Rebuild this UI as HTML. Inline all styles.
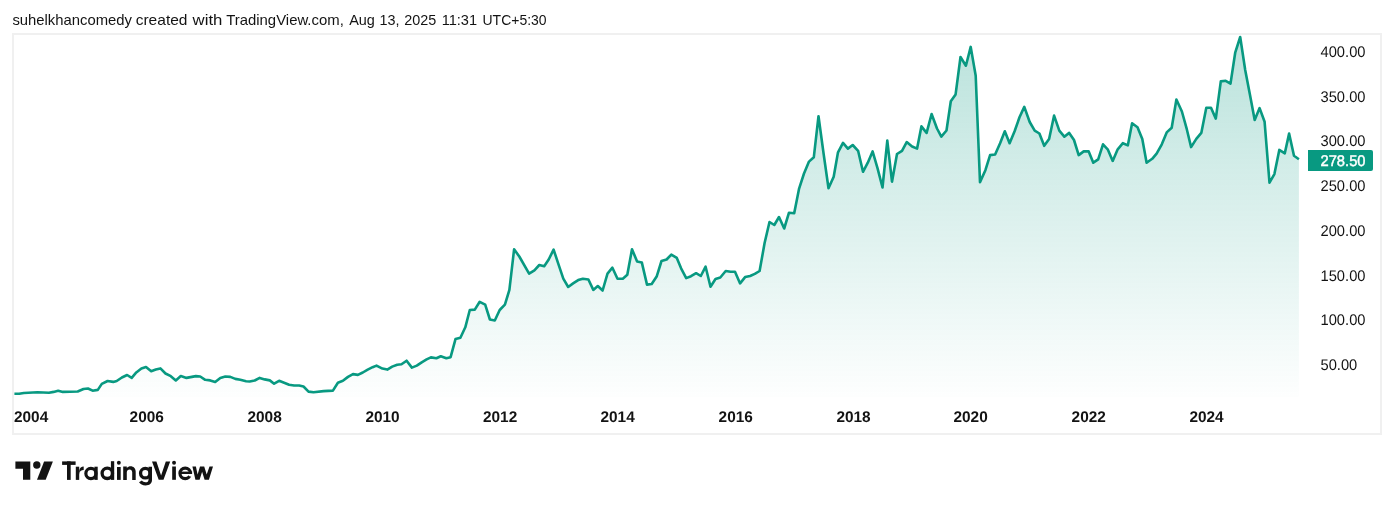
<!DOCTYPE html>
<html><head><meta charset="utf-8">
<style>
html,body{margin:0;padding:0;background:#fff;}
body{width:1394px;height:509px;overflow:hidden;position:relative;font-family:"Liberation Sans",sans-serif;}
svg{position:absolute;left:0;top:0;will-change:transform;}
</style></head><body>
<svg width="1394" height="509" viewBox="0 0 1394 509">
<defs>
<linearGradient id="g" x1="0" y1="35" x2="0" y2="405" gradientUnits="userSpaceOnUse">
<stop offset="0" stop-color="#089981" stop-opacity="0.28"/>
<stop offset="1" stop-color="#089981" stop-opacity="0.0"/>
</linearGradient>
</defs>
<g font-family="Liberation Sans" font-size="15" fill="#131313"><text x="12.4" y="24.5" textLength="119.6" lengthAdjust="spacingAndGlyphs">suhelkhancomedy</text><text x="135.7" y="24.5" textLength="51.8" lengthAdjust="spacingAndGlyphs">created</text><text x="192.6" y="24.5" textLength="29.8" lengthAdjust="spacingAndGlyphs">with</text><text x="226.2" y="24.5" textLength="117.6" lengthAdjust="spacingAndGlyphs">TradingView.com,</text><text x="349.2" y="24.5" textLength="25.7" lengthAdjust="spacingAndGlyphs">Aug</text><text x="379.4" y="24.5" textLength="20.0" lengthAdjust="spacingAndGlyphs">13,</text><text x="404.2" y="24.5" textLength="32.0" lengthAdjust="spacingAndGlyphs">2025</text><text x="441.7" y="24.5" textLength="35.4" lengthAdjust="spacingAndGlyphs">11:31</text><text x="482.5" y="24.5" textLength="64.1" lengthAdjust="spacingAndGlyphs">UTC+5:30</text></g>
<rect x="13" y="34" width="1368" height="400" fill="none" stroke="#f0f0f0" stroke-width="2"/>
<path d="M14.4,393.8 L19.2,393.8 L23.8,393.0 L37.5,392.2 L49.0,392.7 L53.6,391.9 L58.2,390.7 L62.8,391.9 L77.7,391.5 L83.5,389.0 L88.0,388.5 L92.6,390.7 L97.8,389.9 L101.8,383.9 L107.6,381.0 L113.3,381.9 L116.7,381.0 L121.9,377.5 L127.1,375.0 L131.7,377.8 L136.3,372.4 L141.4,368.4 L146.0,367.0 L151.2,371.2 L155.8,369.5 L160.4,368.4 L165.5,373.5 L170.8,376.2 L175.8,380.4 L180.8,376.1 L186.5,377.9 L195.9,376.1 L200.2,376.5 L205.2,379.8 L210.2,380.4 L215.2,382.0 L220.3,377.9 L225.3,376.5 L230.3,376.9 L235.3,378.9 L240.3,379.8 L246.1,381.2 L249.7,381.5 L254.7,380.5 L259.7,377.9 L264.7,379.4 L269.8,380.4 L274.1,383.7 L279.1,380.8 L284.1,382.7 L289.1,384.7 L294.1,385.5 L299.2,385.5 L303.5,386.5 L308.5,391.6 L313.5,392.3 L323.6,391.1 L332.9,390.6 L337.9,382.7 L342.9,380.8 L348.0,376.9 L353.0,374.1 L357.9,374.9 L362.8,372.5 L367.7,369.6 L372.6,367.2 L376.5,365.6 L382.4,368.6 L387.3,369.6 L392.2,366.6 L397.2,364.7 L401.5,364.3 L406.6,360.7 L411.9,367.6 L416.8,365.6 L421.7,362.3 L426.6,359.4 L430.9,357.4 L436.4,358.2 L440.8,356.2 L446.3,358.2 L450.6,357.2 L455.5,339.1 L460.4,337.7 L465.3,327.3 L469.8,310.0 L474.8,309.6 L479.7,301.8 L485.2,304.7 L489.9,319.5 L494.8,320.5 L499.7,310.0 L504.9,304.7 L509.4,289.9 L514.1,249.3 L519.3,256.5 L529.1,273.6 L534.4,270.3 L539.3,265.0 L544.2,266.3 L548.7,259.5 L553.6,249.6 L558.5,264.4 L563.3,278.7 L568.2,287.0 L573.1,283.4 L578.2,280.1 L582.9,278.7 L588.4,279.5 L593.3,289.9 L597.8,286.0 L602.6,290.5 L607.5,273.6 L612.4,267.7 L617.5,278.7 L622.8,278.7 L627.3,274.8 L632.0,249.3 L637.1,261.4 L641.8,262.4 L647.0,284.6 L651.7,284.0 L656.8,276.2 L661.5,261.0 L666.6,259.5 L671.3,254.6 L676.8,257.9 L681.1,268.3 L686.2,278.1 L691.0,276.2 L696.1,273.2 L700.8,276.0 L705.6,266.7 L710.5,286.8 L715.5,279.0 L720.3,277.5 L725.7,271.0 L730.6,271.7 L735.0,271.7 L740.1,283.4 L745.1,277.1 L750.1,276.0 L754.8,273.9 L759.6,271.0 L764.6,243.0 L769.5,222.0 L774.3,225.0 L779.0,217.0 L784.2,228.5 L789.0,212.7 L794.2,213.3 L799.1,188.6 L804.0,173.5 L809.0,161.6 L813.8,157.3 L818.5,116.2 L823.5,153.0 L828.5,188.2 L833.7,176.7 L838.0,152.3 L843.0,142.8 L847.9,148.6 L852.7,145.0 L858.1,150.8 L863.0,171.8 L867.8,162.7 L872.6,151.4 L877.5,168.1 L882.5,187.5 L887.3,140.6 L892.0,181.7 L897.0,154.0 L902.0,150.8 L906.7,142.1 L912.1,146.5 L917.1,148.6 L921.4,126.4 L926.6,132.9 L931.6,114.0 L937.0,128.5 L941.3,136.7 L946.5,130.5 L950.8,101.3 L955.6,94.4 L960.5,57.0 L965.9,65.7 L970.7,46.9 L975.7,75.8 L980.0,182.1 L985.4,170.2 L990.1,155.1 L995.1,154.5 L1000.1,143.2 L1004.8,131.3 L1009.6,143.2 L1014.6,131.3 L1019.5,117.3 L1024.3,106.9 L1029.7,122.0 L1034.7,130.7 L1039.4,133.5 L1044.2,145.8 L1049.1,138.9 L1054.1,115.6 L1059.3,130.7 L1064.3,136.7 L1069.2,132.9 L1074.0,140.0 L1078.7,155.1 L1083.7,151.4 L1088.7,151.4 L1093.3,162.7 L1098.2,159.4 L1103.0,144.3 L1107.7,149.3 L1112.7,160.9 L1117.7,149.3 L1122.9,143.2 L1127.8,145.4 L1132.1,123.3 L1137.5,127.2 L1142.3,138.9 L1146.6,162.7 L1152.2,158.8 L1156.6,153.6 L1161.8,144.3 L1166.7,132.4 L1171.7,127.7 L1176.4,99.5 L1181.9,111.5 L1186.8,129.2 L1191.1,147.1 L1196.3,138.9 L1201.3,132.9 L1206.3,107.8 L1211.0,107.8 L1215.8,118.6 L1220.8,81.4 L1225.7,80.8 L1230.5,83.6 L1235.2,52.7 L1240.2,37.0 L1245.2,70.0 L1250.0,95.1 L1254.7,119.9 L1259.6,108.1 L1264.6,121.8 L1269.5,182.7 L1274.4,174.1 L1279.3,149.9 L1284.8,153.3 L1289.1,133.6 L1294.0,155.8 L1298.9,159.2 L1298.9,397 L14.4,397 Z" fill="url(#g)"/>
<path d="M14.4,393.8 L19.2,393.8 L23.8,393.0 L37.5,392.2 L49.0,392.7 L53.6,391.9 L58.2,390.7 L62.8,391.9 L77.7,391.5 L83.5,389.0 L88.0,388.5 L92.6,390.7 L97.8,389.9 L101.8,383.9 L107.6,381.0 L113.3,381.9 L116.7,381.0 L121.9,377.5 L127.1,375.0 L131.7,377.8 L136.3,372.4 L141.4,368.4 L146.0,367.0 L151.2,371.2 L155.8,369.5 L160.4,368.4 L165.5,373.5 L170.8,376.2 L175.8,380.4 L180.8,376.1 L186.5,377.9 L195.9,376.1 L200.2,376.5 L205.2,379.8 L210.2,380.4 L215.2,382.0 L220.3,377.9 L225.3,376.5 L230.3,376.9 L235.3,378.9 L240.3,379.8 L246.1,381.2 L249.7,381.5 L254.7,380.5 L259.7,377.9 L264.7,379.4 L269.8,380.4 L274.1,383.7 L279.1,380.8 L284.1,382.7 L289.1,384.7 L294.1,385.5 L299.2,385.5 L303.5,386.5 L308.5,391.6 L313.5,392.3 L323.6,391.1 L332.9,390.6 L337.9,382.7 L342.9,380.8 L348.0,376.9 L353.0,374.1 L357.9,374.9 L362.8,372.5 L367.7,369.6 L372.6,367.2 L376.5,365.6 L382.4,368.6 L387.3,369.6 L392.2,366.6 L397.2,364.7 L401.5,364.3 L406.6,360.7 L411.9,367.6 L416.8,365.6 L421.7,362.3 L426.6,359.4 L430.9,357.4 L436.4,358.2 L440.8,356.2 L446.3,358.2 L450.6,357.2 L455.5,339.1 L460.4,337.7 L465.3,327.3 L469.8,310.0 L474.8,309.6 L479.7,301.8 L485.2,304.7 L489.9,319.5 L494.8,320.5 L499.7,310.0 L504.9,304.7 L509.4,289.9 L514.1,249.3 L519.3,256.5 L529.1,273.6 L534.4,270.3 L539.3,265.0 L544.2,266.3 L548.7,259.5 L553.6,249.6 L558.5,264.4 L563.3,278.7 L568.2,287.0 L573.1,283.4 L578.2,280.1 L582.9,278.7 L588.4,279.5 L593.3,289.9 L597.8,286.0 L602.6,290.5 L607.5,273.6 L612.4,267.7 L617.5,278.7 L622.8,278.7 L627.3,274.8 L632.0,249.3 L637.1,261.4 L641.8,262.4 L647.0,284.6 L651.7,284.0 L656.8,276.2 L661.5,261.0 L666.6,259.5 L671.3,254.6 L676.8,257.9 L681.1,268.3 L686.2,278.1 L691.0,276.2 L696.1,273.2 L700.8,276.0 L705.6,266.7 L710.5,286.8 L715.5,279.0 L720.3,277.5 L725.7,271.0 L730.6,271.7 L735.0,271.7 L740.1,283.4 L745.1,277.1 L750.1,276.0 L754.8,273.9 L759.6,271.0 L764.6,243.0 L769.5,222.0 L774.3,225.0 L779.0,217.0 L784.2,228.5 L789.0,212.7 L794.2,213.3 L799.1,188.6 L804.0,173.5 L809.0,161.6 L813.8,157.3 L818.5,116.2 L823.5,153.0 L828.5,188.2 L833.7,176.7 L838.0,152.3 L843.0,142.8 L847.9,148.6 L852.7,145.0 L858.1,150.8 L863.0,171.8 L867.8,162.7 L872.6,151.4 L877.5,168.1 L882.5,187.5 L887.3,140.6 L892.0,181.7 L897.0,154.0 L902.0,150.8 L906.7,142.1 L912.1,146.5 L917.1,148.6 L921.4,126.4 L926.6,132.9 L931.6,114.0 L937.0,128.5 L941.3,136.7 L946.5,130.5 L950.8,101.3 L955.6,94.4 L960.5,57.0 L965.9,65.7 L970.7,46.9 L975.7,75.8 L980.0,182.1 L985.4,170.2 L990.1,155.1 L995.1,154.5 L1000.1,143.2 L1004.8,131.3 L1009.6,143.2 L1014.6,131.3 L1019.5,117.3 L1024.3,106.9 L1029.7,122.0 L1034.7,130.7 L1039.4,133.5 L1044.2,145.8 L1049.1,138.9 L1054.1,115.6 L1059.3,130.7 L1064.3,136.7 L1069.2,132.9 L1074.0,140.0 L1078.7,155.1 L1083.7,151.4 L1088.7,151.4 L1093.3,162.7 L1098.2,159.4 L1103.0,144.3 L1107.7,149.3 L1112.7,160.9 L1117.7,149.3 L1122.9,143.2 L1127.8,145.4 L1132.1,123.3 L1137.5,127.2 L1142.3,138.9 L1146.6,162.7 L1152.2,158.8 L1156.6,153.6 L1161.8,144.3 L1166.7,132.4 L1171.7,127.7 L1176.4,99.5 L1181.9,111.5 L1186.8,129.2 L1191.1,147.1 L1196.3,138.9 L1201.3,132.9 L1206.3,107.8 L1211.0,107.8 L1215.8,118.6 L1220.8,81.4 L1225.7,80.8 L1230.5,83.6 L1235.2,52.7 L1240.2,37.0 L1245.2,70.0 L1250.0,95.1 L1254.7,119.9 L1259.6,108.1 L1264.6,121.8 L1269.5,182.7 L1274.4,174.1 L1279.3,149.9 L1284.8,153.3 L1289.1,133.6 L1294.0,155.8 L1298.9,159.2" fill="none" stroke="#089981" stroke-width="2.6" stroke-linejoin="round"/>
<g font-family="Liberation Sans" font-size="15.4" fill="#131313" text-rendering="geometricPrecision">
<text x="1320.5" y="57.0" textLength="45.0" lengthAdjust="spacingAndGlyphs">400.00</text>
<text x="1320.5" y="101.7" textLength="45.0" lengthAdjust="spacingAndGlyphs">350.00</text>
<text x="1320.5" y="146.4" textLength="45.0" lengthAdjust="spacingAndGlyphs">300.00</text>
<text x="1320.5" y="191.2" textLength="45.0" lengthAdjust="spacingAndGlyphs">250.00</text>
<text x="1320.5" y="235.9" textLength="45.0" lengthAdjust="spacingAndGlyphs">200.00</text>
<text x="1320.5" y="280.6" textLength="45.0" lengthAdjust="spacingAndGlyphs">150.00</text>
<text x="1320.5" y="325.4" textLength="45.0" lengthAdjust="spacingAndGlyphs">100.00</text>
<text x="1320.5" y="370.1" textLength="36.8" lengthAdjust="spacingAndGlyphs">50.00</text>
</g>
<rect x="1308" y="150" width="65" height="21" rx="2" fill="#089981"/>
<rect x="1308" y="150" width="10" height="21" fill="#089981"/>
<text x="1320.5" y="166" textLength="45" lengthAdjust="spacingAndGlyphs" font-family="Liberation Sans" font-size="15.4" fill="#ffffff" stroke="#ffffff" stroke-width="0.45" text-rendering="geometricPrecision">278.50</text>
<g font-family="Liberation Sans" font-size="15.4" font-weight="bold" fill="#131313" text-rendering="geometricPrecision">
<text x="14.0" y="421.8">2004</text>
<text x="129.6" y="421.8">2006</text>
<text x="247.5" y="421.8">2008</text>
<text x="365.4" y="421.8">2010</text>
<text x="483.0" y="421.8">2012</text>
<text x="600.5" y="421.8">2014</text>
<text x="718.6" y="421.8">2016</text>
<text x="836.4" y="421.8">2018</text>
<text x="953.5" y="421.8">2020</text>
<text x="1071.6" y="421.8">2022</text>
<text x="1189.4" y="421.8">2024</text>
</g>
<g fill="#131313">
<path d="M15.4,461.4 H30.3 V479.8 H23 V468.7 H15.4 Z"/>
<circle cx="36.8" cy="465" r="3.7"/>
<path d="M44.1,461.4 H52.9 L45.7,479.8 H37 Z"/>
</g>
<g fill="#131313">
<rect x="62.1" y="461.4" width="13.5" height="3.5"/>
<rect x="67" y="461.4" width="3.7" height="18.5"/>
<rect x="75.8" y="466.7" width="3.4" height="13.2"/>
<path d="M79.2,470.5 C79.6,467.9 81.5,466.6 83.7,466.6 V469.9 C81.3,469.9 79.2,471.3 79.2,474.5 Z"/>
<circle cx="90.9" cy="473.5" r="5.05" fill="none" stroke="#131313" stroke-width="3.2"/>
<rect x="94.4" y="466.7" width="3.3" height="13.2"/>
<circle cx="107.3" cy="473.3" r="5.2" fill="none" stroke="#131313" stroke-width="3.3"/>
<rect x="110.9" y="461.2" width="3.3" height="18.7"/>
<rect x="117" y="467" width="3.7" height="12.9"/>
<circle cx="118.85" cy="462.8" r="1.95"/>
<path d="M123.2,479.9 V466.5 H126.8 V468 C127.8,466.8 129.2,466.2 130.5,466.2 C133.5,466.2 135.7,468.3 135.7,471.8 V479.9 H132.2 V472.3 C132.2,470.5 131.1,469.4 129.6,469.4 C128,469.4 126.8,470.6 126.8,472.5 V479.9 Z"/>
<circle cx="145.3" cy="473.2" r="4.75" fill="none" stroke="#131313" stroke-width="3.3"/>
<path d="M148.5,466.8 H152 V480 C152,483.6 149.4,485.4 145.6,485.4 C142.6,485.4 140.3,484.2 139,482.2 L141.9,480.6 C142.7,481.8 143.9,482.3 145.5,482.3 C147.5,482.3 148.5,481.3 148.5,479.4 Z"/>
<path d="M152,461.5 H156.4 L161.1,475.5 L165.8,461.5 H170.2 L163.5,479.8 H158.7 Z"/>
<rect x="172.2" y="466.5" width="3.7" height="13.3"/>
<circle cx="174.05" cy="462.8" r="1.95"/>
<circle cx="185.2" cy="473.3" r="5.25" fill="none" stroke="#131313" stroke-width="3.2"/>
<path d="M186.5,474 H193 V477.2 L189.5,476.2 Z" fill="#ffffff"/>
<rect x="179.5" y="471.6" width="12.6" height="2.4"/>
<path d="M192.4,466.5 H195.9 L197.6,474.5 L200,466.5 H204.2 L206.7,474.5 L209.5,466.5 H213 L208.9,479.8 H204.6 L202.1,471.8 L199.6,479.8 H195.4 Z"/>
</g>
</svg>
</body></html>
